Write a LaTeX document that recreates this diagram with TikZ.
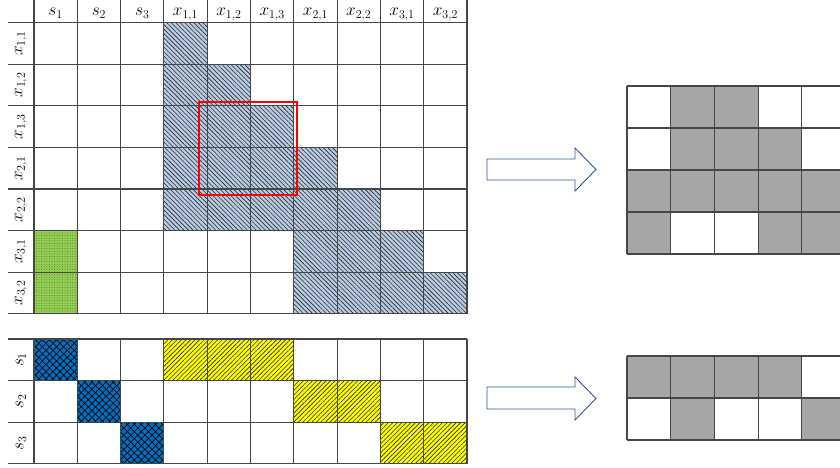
\documentclass[tikz,border=0pt]{standalone}
\usetikzlibrary{patterns,patterns.meta}
\definecolor{hatchblue}{RGB}{184,204,228}
\definecolor{dotgreen}{RGB}{146,208,80}
\definecolor{crossblue}{RGB}{0,112,192}
\definecolor{hatchyellow}{RGB}{255,255,0}
\definecolor{cellgray}{RGB}{166,166,166}
\definecolor{arrowblue}{RGB}{47,85,151}
\definecolor{gridline}{RGB}{70,70,70}
\newcommand\mycell[4]{\path[#4] ({34+43.3*#1},{#3+41.6*#2}) rectangle ++(43.3,41.6);}
\newcommand\rcell[4]{\path[#4] ({627+43.7*#1},{#3+42*#2}) rectangle ++(43.7,42);}
\begin{document}
\begin{tikzpicture}[x=1pt,y=-1pt,
  bluehatch/.style={fill=hatchblue, postaction={pattern={Lines[angle=-45,distance=3.2pt,line width=0.6pt]}, pattern color=black!85}},
  greendots/.style={fill=dotgreen, postaction={pattern={Dots[radius=0.45pt,distance=2.6pt]}, pattern color=black!70}},
  bluecross/.style={fill=crossblue, postaction={pattern={Hatch[angle=45,distance=5pt,line width=0.7pt]}, pattern color=black}},
  yellowhatch/.style={fill=hatchyellow, postaction={pattern={Lines[angle=45,distance=3.2pt,line width=0.6pt]}, pattern color=black!85}},
  graycell/.style={fill=cellgray},
  gridl/.style={draw=gridline, line width=1.1pt},
  lbl/.style={inner sep=0pt, font=\fontsize{18}{20}\selectfont},
  blockarrow/.style={draw=arrowblue, line width=0.9pt, fill=white}]
\useasboundingbox (0,0) rectangle (840,467);
% ---------- top matrix fills ----------
\mycell{3}{0}{22.6}{bluehatch}
\foreach \c in {3,4} {\mycell{\c}{1}{22.6}{bluehatch}}
\foreach \c in {3,4,5} {\mycell{\c}{2}{22.6}{bluehatch}}
\foreach \c in {3,4,5,6} {\mycell{\c}{3}{22.6}{bluehatch}}
\foreach \c in {3,4,5,6,7} {\mycell{\c}{4}{22.6}{bluehatch}}
\foreach \c in {6,7,8} {\mycell{\c}{5}{22.6}{bluehatch}}
\foreach \c in {6,7,8,9} {\mycell{\c}{6}{22.6}{bluehatch}}
\mycell{0}{5}{22.6}{greendots}
\mycell{0}{6}{22.6}{greendots}
% ---------- top matrix grid ----------
\foreach \j in {0,...,7} {\draw[gridl] (8,{22.6+41.6*\j}) -- (467,{22.6+41.6*\j});}
\foreach \i in {0,...,10} {\draw[gridl] ({34+43.3*\i},0) -- ({34+43.3*\i},313.8);}
% headers
\foreach \t [count=\i from 0] in {s_1,s_2,s_3,x_{1,1},x_{1,2},x_{1,3},x_{2,1},x_{2,2},x_{3,1},x_{3,2}}
  {\node[lbl, anchor=base] (h\i) at ({34+43.3*(\i+0.5)},15.5) {$\t$};}
\foreach \t [count=\j from 0] in {x_{1,1},x_{1,2},x_{1,3},x_{2,1},x_{2,2},x_{3,1},x_{3,2}}
  {\node[lbl, rotate=90] (r\j) at (21,{22.6+41.6*(\j+0.5)}) {$\t$};}
% red highlight
\draw[red, line width=2pt] (199,102) rectangle (297,195);
% ---------- bottom matrix ----------
\mycell{0}{0}{339}{bluecross}
\mycell{1}{1}{339}{bluecross}
\mycell{2}{2}{339}{bluecross}
\foreach \c in {3,4,5} {\mycell{\c}{0}{339}{yellowhatch}}
\foreach \c in {6,7} {\mycell{\c}{1}{339}{yellowhatch}}
\foreach \c in {8,9} {\mycell{\c}{2}{339}{yellowhatch}}
\foreach \j in {0,...,3} {\draw[gridl] (8,{339+41.6*\j}) -- (467,{339+41.6*\j});}
\foreach \i in {0,...,10} {\draw[gridl] ({34+43.3*\i},339) -- ({34+43.3*\i},463.8);}
\foreach \t [count=\j from 0] in {s_1,s_2,s_3}
  {\node[lbl, rotate=90] (b\j) at (21,{339+41.6*(\j+0.5)}) {$\t$};}
% ---------- arrows ----------
\draw[blockarrow] (487,159) -- (575,159) -- (575,148) -- (596,169.5) -- (575,191) -- (575,180) -- (487,180) -- cycle;
\draw[blockarrow] (487,387) -- (575,387) -- (575,377) -- (596,398.5) -- (575,420) -- (575,409) -- (487,409) -- cycle;
% ---------- right grids ----------
\begin{scope}
\clip (600,0) rectangle (840,467);
\foreach \c in {1,2} {\rcell{\c}{0}{86}{graycell}}
\foreach \c in {1,2,3} {\rcell{\c}{1}{86}{graycell}}
\foreach \c in {0,1,2,3,4} {\rcell{\c}{2}{86}{graycell}}
\foreach \c in {0,3,4} {\rcell{\c}{3}{86}{graycell}}
\foreach \j in {0,...,4} {\draw[gridl] (627,{86+42*\j}) -- (850,{86+42*\j});}
\foreach \i in {0,...,4} {\draw[gridl] ({627+43.7*\i},86) -- ({627+43.7*\i},254);}
\foreach \c in {0,1,2,3} {\rcell{\c}{0}{356}{graycell}}
\foreach \c in {1,4} {\rcell{\c}{1}{356}{graycell}}
\foreach \j in {0,...,2} {\draw[gridl] (627,{356+42*\j}) -- (850,{356+42*\j});}
\foreach \i in {0,...,4} {\draw[gridl] ({627+43.7*\i},356) -- ({627+43.7*\i},440);}
\end{scope}
\end{tikzpicture}
\end{document}
